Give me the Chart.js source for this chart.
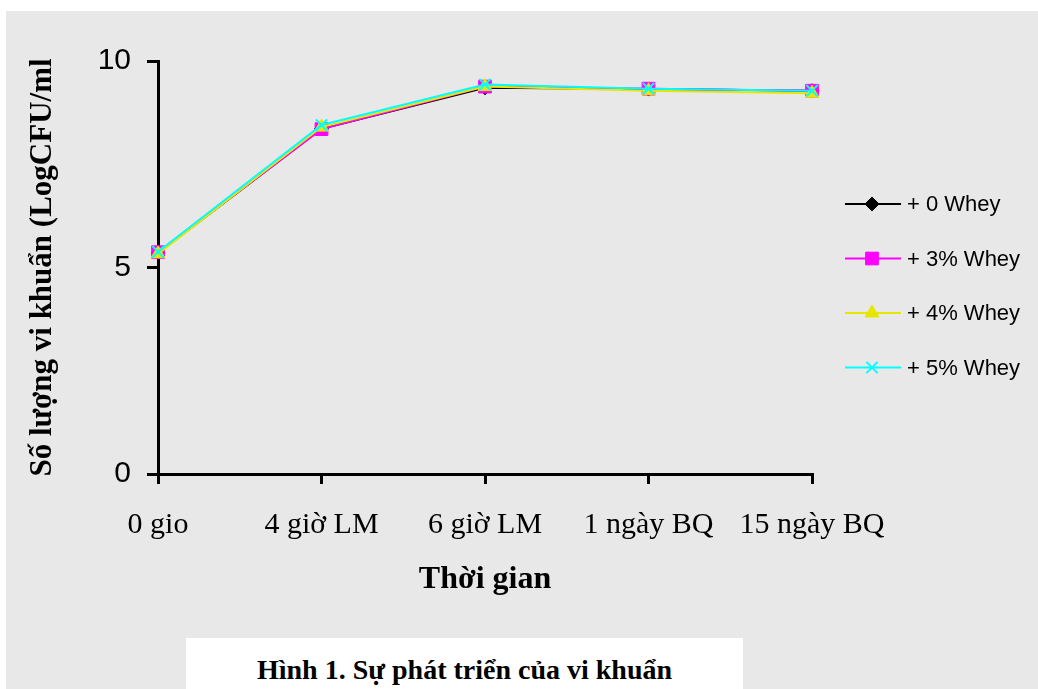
<!DOCTYPE html>
<html>
<head>
<meta charset="utf-8">
<script src="https://cdn.jsdelivr.net/npm/chart.js@4.4.0/dist/chart.umd.min.js"></script>
<style>
  body { margin: 0; background: #fff; }
  #panel { position: absolute; left: 6px; top: 11px; right: 0; bottom: 0; background: #e8e8e8; }
  #caption {
    position: absolute; left: 186px; top: 638px; width: 557px; height: 51px;
    background: #fff; font: bold 28px "Liberation Serif", "DejaVu Serif", serif;
    color: #000; text-align: center; line-height: 64px;
  }
  #chartDiv { position: absolute; left: 0; top: 0; }
</style>
</head>
<body>
<div id="panel"></div>
<canvas id="chartDiv" width="1038" height="689"></canvas>
<div id="caption">Hình 1. Sự phát triển của vi khuẩn</div>
<script>
const labels = ['0 gio', '4 giờ LM', '6 giờ LM', '1 ngày BQ', '15 ngày BQ'];
const whey0 = [5.35, 8.36, 9.35, 9.32, 9.28];
const whey3 = [5.37, 8.35, 9.38, 9.33, 9.28];
const whey4 = [5.33, 8.40, 9.38, 9.28, 9.22];
const whey5 = [5.38, 8.45, 9.43, 9.33, 9.28];
const yTicks = [0, 5, 10];

const serif = '"Liberation Serif", "Times New Roman", serif';
const sans = '"Liberation Sans", Arial, sans-serif';

// legend drawn by hand on the right, like the Excel original
const sideLegend = {
  id: 'sideLegend',
  afterDraw(chart) {
    const ctx = chart.ctx;
    chart.data.datasets.forEach((ds, i) => {
      const y = 204 + i * 54.5;
      ctx.save();
      ctx.strokeStyle = ds.borderColor;
      ctx.lineWidth = 2;
      ctx.beginPath();
      ctx.moveTo(845, y);
      ctx.lineTo(901, y);
      ctx.stroke();
      ctx.fillStyle = ds.pointBackgroundColor;
      ctx.lineWidth = ds.pointBorderWidth;
      Chart.helpers.drawPoint(ctx, {
        pointStyle: ds.pointStyle,
        radius: ds.pointRadius,
        rotation: 0,
        borderWidth: ds.pointBorderWidth
      }, 872, y);
      ctx.fillStyle = '#000';
      ctx.font = '22px ' + sans;
      ctx.textBaseline = 'middle';
      ctx.fillText(ds.label, 907, y + 1);
      ctx.restore();
    });
  }
};

function series(label, data, color, style, radius, order) {
  return {
    label: label,
    data: data,
    borderColor: color,
    backgroundColor: color,
    pointBackgroundColor: color,
    pointBorderColor: color,
    pointBorderWidth: style === 'crossRot' ? 2 : 1,
    borderWidth: 2,
    pointStyle: style,
    pointRadius: radius,
    tension: 0,
    order: order
  };
}

const chart = new Chart(document.getElementById('chartDiv'), {
  type: 'line',
  data: {
    labels: labels,
    datasets: [
      series('+ 0 Whey', whey0, '#000000', 'rectRot', 7, 4),
      series('+ 3% Whey', whey3, '#ff00ff', 'rect', 9, 3),
      series('+ 4% Whey', whey4, '#e6e600', 'triangle', 8, 2),
      series('+ 5% Whey', whey5, '#00ffff', 'crossRot', 8, 1)
    ]
  },
  options: {
    responsive: false,
    animation: false,
    layout: { padding: { left: 18, top: 61, right: 226, bottom: 85 } },
    plugins: { legend: { display: false }, tooltip: { enabled: false } },
    scales: {
      x: {
        offset: false,
        afterFit: s => { s.height = 130; },
        grid: { drawOnChartArea: false, drawTicks: true, tickLength: 10, color: '#000', lineWidth: 3 },
        border: { display: true, color: '#000', width: 3 },
        ticks: { color: '#000', font: { family: serif, size: 30 }, padding: 23, maxRotation: 0, autoSkip: false },
        title: { display: true, text: 'Thời gian', color: '#000', font: { family: serif, size: 32, weight: 'bold' }, padding: { bottom: 5 } }
      },
      y: {
        min: 0,
        max: 10,
        afterFit: s => { s.width = 158 - 18; },
        afterBuildTicks: s => { s.ticks = yTicks.map(v => ({ value: v })); },
        grid: { drawOnChartArea: false, drawTicks: true, tickLength: 11, color: '#000', lineWidth: 3 },
        border: { display: true, color: '#000', width: 3 },
        ticks: { color: '#000', font: { family: sans, size: 30 }, padding: 16 },
        title: { display: true, text: 'Số lượng vi khuẩn (LogCFU/ml', color: '#000', font: { family: serif, size: 31, weight: 'bold' }, padding: { top: 6 } }
      }
    }
  },
  plugins: [sideLegend]
});
</script>
</body>
</html>
